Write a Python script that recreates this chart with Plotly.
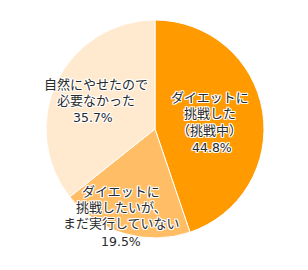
import plotly.graph_objects as go

# Data
labels = ["ダイエットに挑戦した（挑戦中）", "ダイエットに挑戦したいが、まだ実行していない", "自然にやせたので必要なかった"]
label_lines = [["ダイエットに", "挑戦した", "（挑戦中）"],
               ["ダイエットに", "挑戦したいが、", "まだ実行していない"],
               ["自然にやせたので", "必要なかった"]]
values = [44.8, 19.5, 35.7]
colors = ["#FF9A00", "#FFBE66", "#FFEAD0"]

W, H = 308, 270
cx, cy, r = 155, 129, 109

fig = go.Figure(go.Pie(
    labels=labels, values=values, sort=False, direction="clockwise", rotation=0,
    marker=dict(colors=colors, line=dict(color="white", width=1)),
    textinfo="none", hoverinfo="skip", showlegend=False,
    domain=dict(x=[(cx - r) / W, (cx + r) / W], y=[1 - (cy + r) / H, 1 - (cy - r) / H]),
))

# label placement (pixel centers): x center, y of first line, line step, pct x, pct y
placement = [(210, 97.5, 16.3, 212, 147), (121, 191, 16.0, 121, 241), (96, 84, 17.0, 93.5, 117.5)]

shadow = "1px 1px 0 #fff, -1px -1px 0 #fff, 1px -1px 0 #fff, -1px 1px 0 #fff, 0 1px 0 #fff, 0 -1px 0 #fff, 1px 0 0 #fff, -1px 0 0 #fff"
font = dict(family="Roboto, 'Noto Sans CJK JP'", size=13, color="#2a2a2a", shadow=shadow)
pct_font = dict(family="'DejaVu Sans'", size=12.5, color="#2a2a2a", shadow=shadow)

for lines, v, (tx, ty0, step, px, py) in zip(label_lines, values, placement):
    for i, line in enumerate(lines):
        fig.add_annotation(x=tx / W, y=1 - (ty0 + i * step) / H, xref="paper", yref="paper",
                           text=line, showarrow=False, font=font, borderpad=0,
                           xanchor="center", yanchor="middle")
    fig.add_annotation(x=px / W, y=1 - py / H, xref="paper", yref="paper",
                       text=f"{v:.1f}%", showarrow=False, font=pct_font, borderpad=0,
                       xanchor="center", yanchor="middle")

fig.update_layout(width=W, height=H, margin=dict(l=0, r=0, t=0, b=0),
                  paper_bgcolor="white", plot_bgcolor="white")
fig.write_html("out.html")
